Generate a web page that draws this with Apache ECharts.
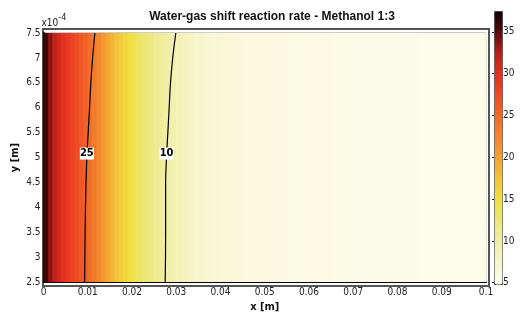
<!DOCTYPE html>
<html>
<head>
<meta charset="utf-8">
<script src="https://cdn.jsdelivr.net/npm/echarts@6/dist/echarts.min.js"></script>
<style>
  html, body { margin: 0; padding: 0; background: #fff; }
  #chart { width: 520px; height: 318px; }
</style>
</head>
<body>
<div id="chart"></div>
<script>
// column edges along x [m] (finer where the rate changes fast)
const xEdges = [
  0, 0.001, 0.002, 0.003, 0.004, 0.005, 0.006, 0.007, 0.008, 0.009,
  0.010, 0.011, 0.012, 0.013, 0.014, 0.015, 0.016, 0.017, 0.018, 0.019,
  0.020, 0.021, 0.022, 0.023, 0.024, 0.025, 0.026, 0.027, 0.028, 0.029,
  0.030, 0.031, 0.032, 0.033, 0.034, 0.035, 0.036, 0.037, 0.038, 0.039,
  0.040, 0.0425, 0.045, 0.0475, 0.050, 0.0525, 0.055, 0.0575, 0.060, 0.0625,
  0.065, 0.0675, 0.070, 0.0725, 0.075, 0.0775, 0.080, 0.0825, 0.085, 0.0875,
  0.090, 0.0925, 0.095, 0.0975, 0.100
];
// reaction rate in each column
const rate = [
  36.0, 33.8, 32.2, 31.0, 29.9, 29.0, 28.1, 27.3, 26.5, 25.7,
  24.5, 23.3, 22.1, 20.9, 19.8, 18.7, 17.6, 16.6, 15.7, 14.9,
  14.2, 13.5, 12.9, 12.3, 11.8, 11.2, 10.7, 10.1, 9.7, 9.3,
  8.9, 8.6, 8.3, 8.0, 7.8, 7.6, 7.4, 7.2, 7.0, 6.9,
  6.7, 6.5, 6.3, 6.15, 6.0, 5.9, 5.8, 5.7, 5.6, 5.5,
  5.45, 5.4, 5.35, 5.3, 5.25, 5.2, 5.2, 5.15, 5.1, 5.1,
  5.05, 5.0, 5.0, 5.0
];
const yMin = 2.5; // x10^-4 m
const yMax = 7.5;

// contour lines (y in 10^-4 m)
const contourY = [2.5, 3.5, 4.5, 5.0, 5.5, 6.0, 6.5, 7.0, 7.5];
const contour25X = [0.0093, 0.0094, 0.0096, 0.0098, 0.0101, 0.0104, 0.0107, 0.0111, 0.0116];
const contour10X = [0.0275, 0.0276, 0.0276, 0.0278, 0.0281, 0.0284, 0.0287, 0.0292, 0.0299];
const contourLabelY = 5.08;

const colorTicks = [5, 10, 15, 20, 25, 30, 35];
const rateMin = 4.85;
const rateMax = 37.5;
const hotColors = [
  "#fdfcec", "#f8f6d2", "#f1efa8", "#ede77c", "#f0e040", "#f4c43a", "#f5a332",
  "#f4862d", "#f26a28", "#ee4a24", "#e4301f", "#b8201a", "#5c0c0c", "#0a0000"
];

const font = '"DejaVu Sans Condensed", "DejaVu Sans", sans-serif';

let myChart = echarts.init(document.getElementById("chart"));

const cells = rate.map((v, i) => [xEdges[i], xEdges[i + 1], yMin, yMax, v]);

function contourSeries(xs, level) {
  return {
    type: "line",
    data: xs.map((x, i) => [x, contourY[i]]),
    symbol: "none",
    smooth: true,
    lineStyle: { color: "#000", width: 1.2 },
    z: 3,
    silent: true,
    markPoint: {
      symbol: "rect",
      symbolSize: [14, 12],
      itemStyle: { color: "#fff" },
      label: {
        show: true,
        position: "inside",
        formatter: String(level),
        color: "#000",
        fontWeight: "bold",
        fontSize: 11,
        fontFamily: font
      },
      data: [{ coord: [xs[3], contourLabelY] }]
    }
  };
}

let option = {
  animation: false,
  title: {
    text: "Water-gas shift reaction rate - Methanol 1:3",
    left: 267,
    textAlign: "center",
    top: 6,
    textStyle: { fontSize: 12, fontWeight: "bold", color: "#111", fontFamily: "Liberation Sans, Arial, sans-serif" }
  },
  grid: [
    { left: 43.5, right: 34, top: 33, bottom: 32, show: true, borderColor: "#999", borderWidth: 1 },
    { left: 494, top: 11, width: 8, height: 273, show: false },
    { left: 43, top: 29, right: 31, bottom: 32, show: true, borderColor: "#555", borderWidth: 2 }
  ],
  xAxis: [
    {
      gridIndex: 0,
      type: "value",
      min: 0,
      max: 0.1,
      interval: 0.01,
      name: "x [m]",
      nameLocation: "middle",
      nameGap: 18,
      nameTextStyle: { fontWeight: "bold", fontSize: 11, color: "#111", fontFamily: font },
      axisLine: { lineStyle: { color: "#000", width: 2 } },
      axisTick: { show: false },
      axisLabel: { fontSize: 10, color: "#222", margin: 5, fontFamily: font },
      splitLine: { show: false }
    },
    { gridIndex: 1, type: "value", show: false },
    { gridIndex: 2, type: "value", show: false }
  ],
  yAxis: [
    {
      gridIndex: 0,
      type: "value",
      min: yMin,
      max: yMax,
      interval: 0.5,
      name: "{a|x10}{b|-4}",
      nameLocation: "end",
      nameGap: 2,
      nameTextStyle: {
        align: "left",
        padding: [0, 0, 0, -2],
        rich: {
          a: { fontSize: 10, color: "#222", fontFamily: font, verticalAlign: "bottom" },
          b: { fontSize: 9, color: "#222", fontFamily: font, verticalAlign: "top", padding: [0, 0, 6, 0] }
        }
      },
      axisLine: { lineStyle: { color: "#000", width: 2 } },
      axisTick: { show: false },
      axisLabel: { fontSize: 10, color: "#222", margin: 3, fontFamily: font },
      splitLine: { show: false }
    },
    {
      gridIndex: 1,
      type: "value",
      min: rateMin,
      max: rateMax,
      position: "right",
      axisLine: { show: false },
      axisTick: { show: true, inside: true, length: 2, customValues: colorTicks, lineStyle: { color: "#222" } },
      axisLabel: { fontSize: 10, color: "#222", margin: 1, customValues: colorTicks, fontFamily: font },
      splitLine: { show: false }
    },
    {
      gridIndex: 2,
      type: "value",
      name: "y [m]",
      nameLocation: "middle",
      nameGap: 22,
      nameTextStyle: { fontWeight: "bold", fontSize: 11, color: "#111", fontFamily: font },
      axisLine: { show: false },
      axisTick: { show: false },
      axisLabel: { show: false },
      splitLine: { show: false }
    }
  ],
  visualMap: {
    type: "continuous",
    seriesIndex: 0,
    dimension: 4,
    min: rateMin,
    max: rateMax,
    calculable: false,
    left: 494,
    top: 11,
    itemWidth: 8,
    itemHeight: 273,
    padding: 0,
    borderColor: "#444",
    borderWidth: 1,
    inRange: { color: hotColors }
  },
  series: [
    {
      type: "custom",
      data: cells,
      encode: { x: [0, 1], y: [2, 3] },
      silent: true,
      renderItem: function (params, api) {
        const p0 = api.coord([api.value(0), api.value(3)]);
        const p1 = api.coord([api.value(1), api.value(2)]);
        return {
          type: "rect",
          shape: { x: p0[0], y: p0[1], width: p1[0] - p0[0] + 0.6, height: p1[1] - p0[1] },
          style: { fill: api.visual("color") }
        };
      }
    },
    contourSeries(contour25X, 25),
    contourSeries(contour10X, 10)
  ]
};
myChart.setOption(option);
window.addEventListener("resize", () => myChart.resize(), false);
</script>
</body>
</html>
